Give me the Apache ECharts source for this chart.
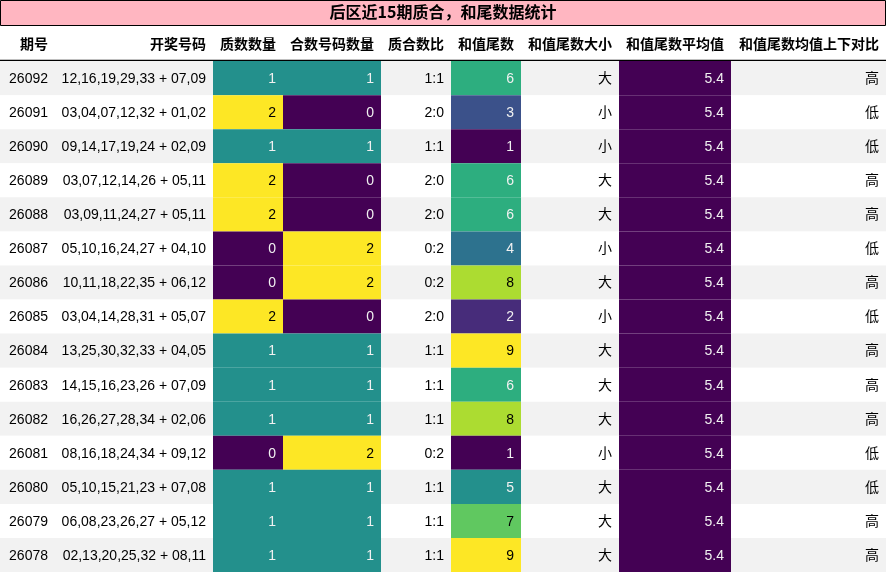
<!DOCTYPE html>
<html>
<head>
<meta charset="utf-8">
<script src="https://cdn.jsdelivr.net/npm/echarts@6/dist/echarts.min.js"></script>
<style>html,body{margin:0;padding:0;background:#fff}#main{width:886px;height:573px}</style>
</head>
<body>
<div id="main"></div>
<script>
var title = '后区近15期质合，和尾数据统计';
var headers = ['期号', '开奖号码', '质数数量', '合数号码数量', '质合数比', '和值尾数', '和值尾数大小', '和值尾数平均值', '和值尾数均值上下对比'];
var issues = ['26092','26091','26090','26089','26088','26087','26086','26085','26084','26083','26082','26081','26080','26079','26078'];
var numbers = ['12,16,19,29,33 + 07,09','03,04,07,12,32 + 01,02','09,14,17,19,24 + 02,09','03,07,12,14,26 + 05,11','03,09,11,24,27 + 05,11',
    '05,10,16,24,27 + 04,10','10,11,18,22,35 + 06,12','03,04,14,28,31 + 05,07','13,25,30,32,33 + 04,05','14,15,16,23,26 + 07,09',
    '16,26,27,28,34 + 02,06','08,16,18,24,34 + 09,12','05,10,15,21,23 + 07,08','06,08,23,26,27 + 05,12','02,13,20,25,32 + 08,11'];
var primeCnt = [1,2,1,2,2,0,0,2,1,1,1,0,1,1,1];
var compCnt = [1,0,1,0,0,2,2,0,1,1,1,2,1,1,1];
var ratio = ['1:1','2:0','1:1','2:0','2:0','0:2','0:2','2:0','1:1','1:1','1:1','0:2','1:1','1:1','1:1'];
var tail = [6,3,1,6,6,4,8,2,9,6,8,1,5,7,9];
var tailSize = ['大','小','小','大','大','小','大','小','大','大','大','小','大','大','大'];
var tailAvg = [5.4,5.4,5.4,5.4,5.4,5.4,5.4,5.4,5.4,5.4,5.4,5.4,5.4,5.4,5.4];
var tailCmp = ['高','低','低','高','高','低','高','低','高','高','高','低','低','高','高'];

// layout
var colWidths = [55, 158, 70, 98, 70, 70, 98, 112, 155];
var viridis = ['#440154','#482878','#3e4989','#31688e','#26828e','#1f9e89','#35b779','#6ece58','#b5de2b','#fde725'];

var colEdges = [0];
colWidths.forEach(function (w) { colEdges.push(colEdges[colEdges.length - 1] + w); });

function hexRgb(h) { return [parseInt(h.substr(1,2),16), parseInt(h.substr(3,2),16), parseInt(h.substr(5,2),16)]; }
function rgbHex(c) { return '#' + c.map(function (v) { var s = Math.round(v).toString(16); return s.length < 2 ? '0' + s : s; }).join(''); }
function cmap(t) {
    t = Math.max(0, Math.min(1, t));
    var p = t * (viridis.length - 1), i = Math.floor(p), f = p - i;
    if (i >= viridis.length - 1) return viridis[viridis.length - 1];
    var a = hexRgb(viridis[i]), b = hexRgb(viridis[i + 1]);
    return rgbHex([a[0] + (b[0]-a[0])*f, a[1] + (b[1]-a[1])*f, a[2] + (b[2]-a[2])*f]);
}
function textColor(hex) {
    var c = hexRgb(hex).map(function (v) { v /= 255; return v <= 0.03928 ? v / 12.92 : Math.pow((v + 0.055) / 1.055, 2.4); });
    var L = 0.2126*c[0] + 0.7152*c[1] + 0.0722*c[2];
    return L < 0.408 ? '#f1f1f1' : '#000000';
}
function gradient(arr) {
    var mn = Math.min.apply(null, arr), mx = Math.max.apply(null, arr);
    return arr.map(function (v) { return mx === mn ? cmap(0) : cmap((v - mn) / (mx - mn)); });
}
var primeColors = gradient(primeCnt), compColors = gradient(compCnt), tailColors = gradient(tail), avgColors = gradient(tailAvg);

var rowNames = ['header'].concat(issues);
var cells = [];
headers.forEach(function (h, c) { cells.push({value: [c, 0], text: h, bold: true}); });
issues.forEach(function (iss, r) {
    var row = [
        [iss, null], [numbers[r], null], [String(primeCnt[r]), primeColors[r]], [String(compCnt[r]), compColors[r]],
        [ratio[r], null], [String(tail[r]), tailColors[r]], [tailSize[r], null], [tailAvg[r].toFixed(1), avgColors[r]], [tailCmp[r], null]
    ];
    row.forEach(function (cell, c) { cells.push({value: [c, r + 1], text: cell[0], bg: cell[1], stripe: r % 2 === 0}); });
});

function renderItem(params, api) {
    var c = api.value(0), r = api.value(1);
    var d = cells[params.dataIndex];
    var h = api.size([0, 1])[1];
    var p0 = api.coord([colEdges[c], r]);
    var p1 = api.coord([colEdges[c + 1], r]);
    var x = p0[0], w = p1[0] - p0[0], y = p0[1] - h / 2;
    var bg = d.bg || (d.stripe ? '#f2f2f2' : '#ffffff');
    var children = [{
        type: 'rect', shape: {x: x, y: y, width: w, height: h}, style: {fill: bg}
    }, {
        type: 'text', style: {
            text: d.text, x: x + w - 7, y: p0[1] + 1, align: 'right', verticalAlign: 'middle',
            fill: d.bg ? textColor(d.bg) : '#000',
            font: (d.bold ? 'bold ' : '') + '14px "Liberation Sans", "Noto Sans CJK SC", sans-serif'
        }
    }];
    if (r === 0) {
        children.push({type: 'line', shape: {x1: x, y1: y + h - 0.5, x2: x + w, y2: y + h - 0.5}, style: {stroke: '#000', lineWidth: 1.5}});
    }
    return {type: 'group', children: children};
}

var chart = echarts.init(document.getElementById('main'));
chart.setOption({
    animation: false,
    graphic: [{
        type: 'rect', left: 0, top: 0, shape: {x: 0.5, y: 0.5, width: 885, height: 25},
        style: {fill: '#ffb6c1', stroke: '#000', lineWidth: 1}
    }, {
        type: 'text', left: 'center', top: 4,
        style: {text: title, font: 'bold 16px "Noto Sans CJK SC", sans-serif', fill: '#000'}
    }],
    grid: {left: 0, right: 0, top: 27, bottom: 1},
    xAxis: {type: 'value', min: 0, max: colEdges[colEdges.length - 1], show: false},
    yAxis: {type: 'category', data: rowNames, inverse: true, show: false},
    series: [{
        type: 'custom',
        renderItem: renderItem,
        data: cells.map(function (d) { return d.value; })
    }]
});
</script>
</body>
</html>
